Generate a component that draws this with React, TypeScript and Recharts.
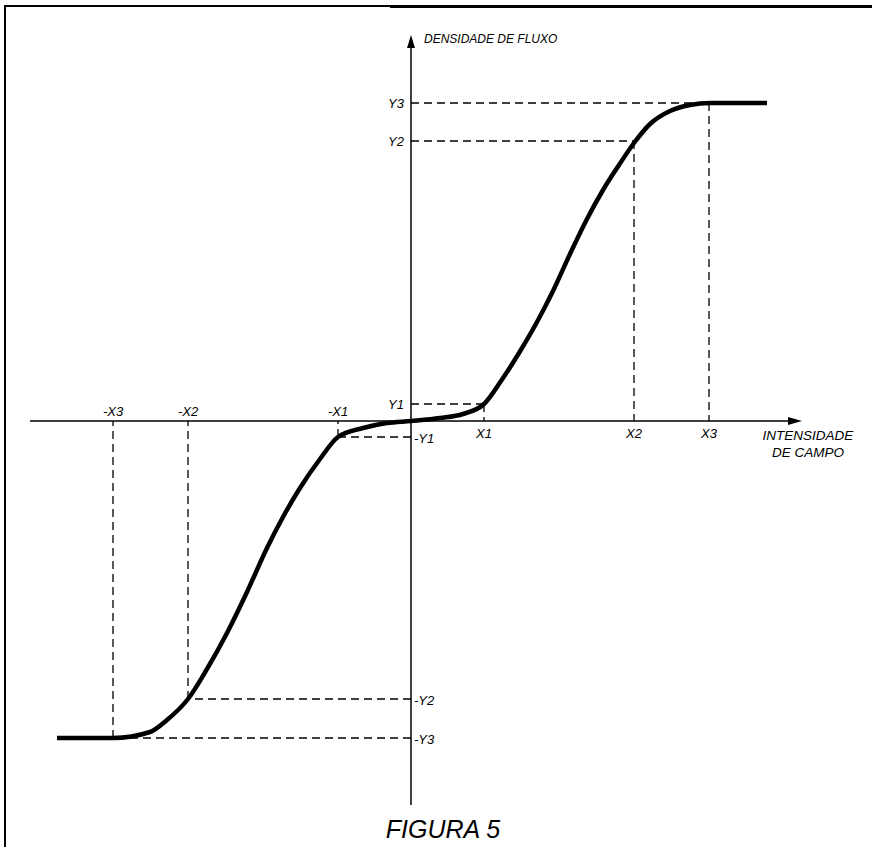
import { LineChart, Line, XAxis, YAxis, ReferenceLine, ReferenceDot } from "recharts";

// magnetisation curve (field H, flux density B)
const fieldH = [
  -354, -298, -261, -244, -223, -204, -184, -164, -144, -128, -111, -91, -73,
  -48, -24, 0, 29, 52, 73, 90, 108, 126, 142, 159, 176, 192, 208, 223, 239,
  259, 279, 299, 356,
];
const fluxB = [
  -317, -317, -311, -299, -278, -248, -212, -171, -127, -96, -67, -38, -16,
  -7, -2, 0, 3, 7, 17, 40, 68, 99, 130, 167, 202, 231, 256, 278, 297, 310,
  316, 318, 318,
];

// marked points
const posX = [73, 223, 298];
const posY = [17, 280, 318];
const negX = [-73, -223, -298];
const negY = [-16, -278, -317];
const posXNames = ["X1", "X2", "X3"];
const posYNames = ["Y1", "Y2", "Y3"];
const negXNames = ["-X1", "-X2", "-X3"];
const negYNames = ["-Y1", "-Y2", "-Y3"];

const curve = fieldH.map((h, i) => ({ h, b: fluxB[i] }));

const FONT = "'Liberation Sans', Arial, sans-serif";

const XArrow = (p: any) => (
  <g>
    <line x1={p.x1} y1={p.y1} x2={p.x2 - 6} y2={p.y2} stroke="#000" strokeWidth={1.5} />
    <polygon
      points={`${p.x2},${p.y2} ${p.x2 - 14},${p.y2 - 4} ${p.x2 - 14},${p.y2 + 4}`}
      fill="#000"
    />
  </g>
);

const YArrow = (p: any) => (
  <g>
    <line x1={p.x1} y1={p.y1} x2={p.x2} y2={p.y2 + 6} stroke="#000" strokeWidth={1.5} />
    <polygon
      points={`${p.x2},${p.y2} ${p.x2 - 4},${p.y2 + 13} ${p.x2 + 4},${p.y2 + 13}`}
      fill="#000"
    />
  </g>
);

const textAt = (label: string, dx: number, dy: number, anchor: string, size = 13) =>
  (p: any) => (
    <text
      x={p.cx + dx}
      y={p.cy + dy}
      textAnchor={anchor}
      dominantBaseline="central"
      fontFamily={FONT}
      fontStyle="italic"
      fontSize={size}
      fill="#000"
    >
      {label}
    </text>
  );

const dash = { stroke: "#000", strokeWidth: 1.3, strokeDasharray: "8 5" };

export default function App() {
  return (
    <div style={{ position: "absolute", left: 0, top: 0, width: 872, height: 847, background: "#fff" }}>
      <div
        style={{
          position: "absolute",
          left: 4,
          top: 5,
          width: 386,
          height: 845,
          borderTop: "2px solid #000",
          borderLeft: "2px solid #000",
        }}
      />
      <div
        style={{
          position: "absolute",
          left: 390,
          top: 5,
          width: 482,
          borderTop: "3px solid #000",
        }}
      />
      <div style={{ position: "absolute", left: 0, top: 0 }}>
        <LineChart width={872} height={847} data={curve} margin={{ top: 0, right: 0, bottom: 0, left: 0 }}>
          <XAxis type="number" dataKey="h" domain={[-411, 461]} hide allowDataOverflow />
          <YAxis type="number" domain={[-426, 421]} hide allowDataOverflow />

          {posX.map((x, i) => (
            <ReferenceLine key={"ph" + i} segment={[{ x: 0, y: posY[i] }, { x, y: posY[i] }]} {...dash} />
          ))}
          {posX.map((x, i) => (
            <ReferenceLine key={"pv" + i} segment={[{ x, y: posY[i] }, { x, y: 0 }]} {...dash} />
          ))}
          {negX.map((x, i) => (
            <ReferenceLine key={"nh" + i} segment={[{ x: 0, y: negY[i] }, { x, y: negY[i] }]} {...dash} />
          ))}
          {negX.map((x, i) => (
            <ReferenceLine key={"nv" + i} segment={[{ x, y: negY[i] }, { x, y: 0 }]} {...dash} />
          ))}

          <ReferenceLine segment={[{ x: -381, y: 0 }, { x: 391, y: 0 }]} shape={XArrow} />
          <ReferenceLine segment={[{ x: 0, y: -384 }, { x: 0, y: 386 }]} shape={YArrow} />

          <Line
            type="monotone"
            dataKey="b"
            stroke="#000"
            strokeWidth={4.5}
            strokeLinecap="butt"
            dot={false}
            activeDot={false}
            isAnimationActive={false}
          />

          {posX.map((x, i) => (
            <ReferenceDot key={"lx" + i} x={x} y={0} r={0} shape={textAt(posXNames[i], 0, 12, "middle")} />
          ))}
          {negX.map((x, i) => (
            <ReferenceDot key={"lnx" + i} x={x} y={0} r={0} shape={textAt(negXNames[i], 0, -10, "middle")} />
          ))}
          {posY.map((y, i) => (
            <ReferenceDot key={"ly" + i} x={0} y={y} r={0} shape={textAt(posYNames[i], -7, 0, "end")} />
          ))}
          {negY.map((y, i) => (
            <ReferenceDot key={"lny" + i} x={0} y={y} r={0} shape={textAt(negYNames[i], 3, 1, "start")} />
          ))}

          <ReferenceDot x={0} y={382} r={0} shape={textAt("DENSIDADE DE FLUXO", 13, 0, "start", 12)} />
          <ReferenceDot x={397} y={-14} r={0} shape={textAt("INTENSIDADE", 0, 0, "middle", 13.5)} />
          <ReferenceDot x={397} y={-31} r={0} shape={textAt("DE CAMPO", 0, 0, "middle", 13.5)} />
          <ReferenceDot x={32} y={-408} r={0} shape={textAt("FIGURA 5", 0, 0, "middle", 25)} />
        </LineChart>
      </div>
    </div>
  );
}
